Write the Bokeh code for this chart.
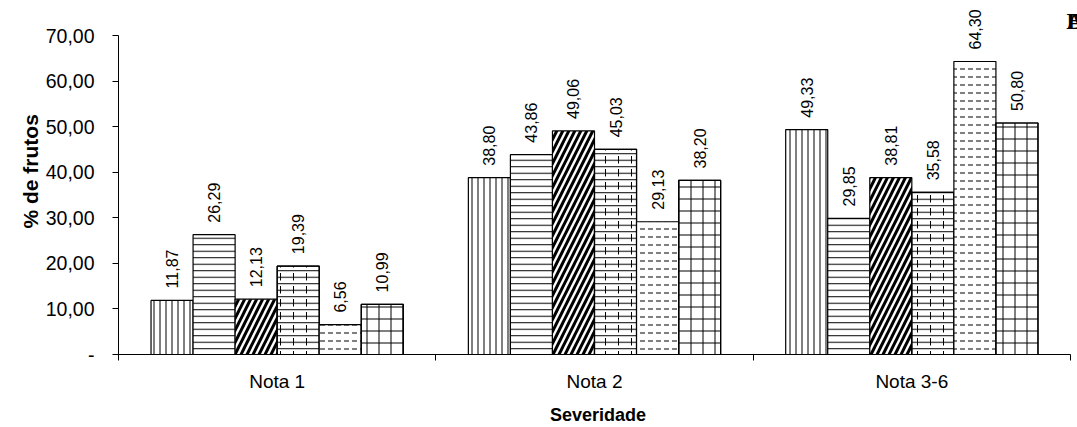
import math
from bokeh.plotting import figure
from bokeh.models import Range1d, FixedTicker, ColumnDataSource, Label, Title
from bokeh.core.properties import value
from bokeh.embed import file_html
from bokeh.resources import INLINE

categories = ["Nota 1", "Nota 2", "Nota 3-6"]
series_values = [
    [11.87, 38.80, 49.33],
    [26.29, 43.86, 29.85],
    [12.13, 49.06, 38.81],
    [19.39, 45.03, 35.58],
    [6.56, 29.13, 64.30],
    [10.99, 38.20, 50.80],
]
y_ticks = [0, 10, 20, 30, 40, 50, 60, 70]
y_tick_labels = ["-", "10,00", "20,00", "30,00", "40,00", "50,00", "60,00", "70,00"]
y_title = "% de frutos"
x_title = "Severidade"

# style per series (hatch layers)
hatches = [
    [dict(hatch_pattern="vertical_line", hatch_scale=6, hatch_weight=1)],
    [dict(hatch_pattern="horizontal_line", hatch_scale=6.5, hatch_weight=1)],
    [dict(hatch_pattern="right_diagonal_line", hatch_scale=12, hatch_weight=3)],
    [dict(hatch_pattern="horizontal_line", hatch_scale=6.5, hatch_weight=1),
     dict(hatch_pattern="vertical_dash", hatch_scale=13, hatch_weight=1)],
    [dict(hatch_pattern="horizontal_dash", hatch_scale=8, hatch_weight=1)],
    [dict(hatch_pattern="vertical_line", hatch_scale=12, hatch_weight=1),
     dict(hatch_pattern="horizontal_line", hatch_scale=12, hatch_weight=1)],
]

n_cat = len(categories)
n_ser = len(series_values)
bar_w = 0.1325
px_per_y = 4.557          # frame pixels per y unit
px_per_x = 952 / n_cat    # frame pixels per category

p = figure(width=1077, height=427, output_backend="svg", toolbar_location=None,
           x_range=Range1d(0, n_cat + 7 / px_per_x), y_range=Range1d(0, 354 / px_per_y),
           min_border_left=118, min_border_right=0, min_border_top=0, min_border_bottom=73)
p.outline_line_color = None
p.xgrid.visible = False
p.ygrid.visible = False
p.background_fill_color = "white"
p.border_fill_color = "white"

for j, vals in enumerate(series_values):
    xs = [i + 0.5 + (j - (n_ser - 1) / 2) * bar_w for i in range(n_cat)]
    src = ColumnDataSource(dict(x=xs, top=vals,
                                lab=[("%.2f" % v).replace(".", ",") for v in vals]))
    for k, h in enumerate(hatches[j]):
        p.vbar(x="x", top="top", bottom=0, width=bar_w, source=src,
               fill_color="white" if k == 0 else None,
               line_color="black", line_width=1.2,
               hatch_color="black", **h)
    p.text(x="x", y="top", text="lab", source=src, angle=math.pi / 2,
           text_align="left", text_baseline="middle", y_offset=-12,
           text_font=value("Liberation Sans"), text_font_size="16px", text_color="black")

# Y axis
ya = p.yaxis[0]
ya.bounds = (y_ticks[0], y_ticks[-1])
ya.ticker = FixedTicker(ticks=y_ticks, minor_ticks=[])
ya.major_label_overrides = {t: l for t, l in zip(y_ticks, y_tick_labels)}
ya.major_label_text_font = "Liberation Sans"
ya.major_label_text_font_size = "19.5px"
ya.major_label_text_color = "black"
ya.major_tick_out = 6
ya.major_tick_in = 0
ya.minor_tick_line_color = None
ya.major_label_standoff = 18
ya.axis_line_color = "black"
ya.major_tick_line_color = "black"

p.add_layout(Title(text=y_title, align="left", offset=126, standoff=2,
                   text_font="Liberation Sans", text_font_style="bold",
                   text_font_size="21px", text_color="black"), "left")

# X axis
xa = p.xaxis[0]
xa.bounds = (0, n_cat)
xa.ticker = FixedTicker(ticks=[i + 0.5 for i in range(n_cat)],
                        minor_ticks=list(range(n_cat + 1)))
xa.major_label_overrides = {i + 0.5: c for i, c in enumerate(categories)}
xa.major_label_text_font = "Liberation Sans"
xa.major_label_text_font_size = "19px"
xa.major_label_text_color = "black"
xa.major_tick_line_color = None
xa.major_tick_out = 0
xa.major_tick_in = 0
xa.minor_tick_out = 6
xa.minor_tick_in = 0
xa.minor_tick_line_color = "black"
xa.major_label_standoff = 10
xa.axis_line_color = "black"
xa.axis_label = x_title
xa.axis_label_text_font = "Liberation Sans"
xa.axis_label_text_font_style = "bold"
xa.axis_label_text_font_size = "18px"
xa.axis_label_text_color = "black"
xa.axis_label_standoff = 10

for t in ["A", "B"]:
    p.add_layout(Label(x=n_cat, y=y_ticks[-1], x_offset=-4, y_offset=2, text=t,
                       text_font="Liberation Serif", text_font_style="bold",
                       text_font_size="24px", text_color="black"))

open("out.html", "w").write(file_html(p, INLINE))
